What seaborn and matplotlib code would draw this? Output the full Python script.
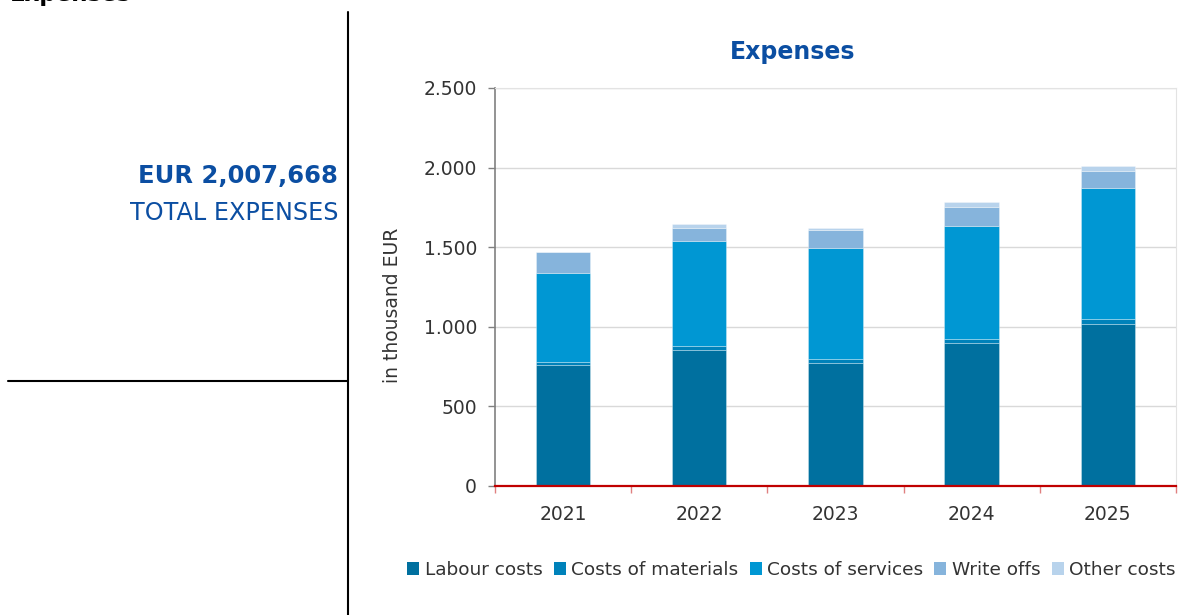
import matplotlib
matplotlib.use("Agg")
import matplotlib.pyplot as plt
from matplotlib.lines import Line2D
from matplotlib.patches import Patch
import numpy as np
import pandas as pd
import seaborn as sns

# Expense breakdown per year, in thousand EUR
years = ["2021", "2022", "2023", "2024", "2025"]
labour_costs = [758, 852, 771, 896, 1018]
costs_of_materials = [21, 27, 25, 27, 29]
costs_of_services = [561, 660, 701, 712, 827]
write_offs = [127, 84, 109, 120, 105]
other_costs = [5, 25, 15, 27, 28.7]

series_names = ["Labour costs", "Costs of materials", "Costs of services",
                "Write offs", "Other costs"]
series_values = [labour_costs, costs_of_materials, costs_of_services,
                 write_offs, other_costs]
series_colors = ["#00709F", "#0082BA", "#0097D3", "#86B4DC", "#B8D3EC"]

y_ticks = [0, 500, 1000, 1500, 2000, 2500]
y_tick_labels = ["0", "500", "1.000", "1.500", "2.000", "2.500"]

total_label = "EUR 2,007,668"
total_caption = "TOTAL EXPENSES"

sns.set_theme(style="white")
plt.rcParams["font.family"] = ["DejaVu Sans"]

blue = "#0B4EA2"
text_grey = "#333333"

fig = plt.figure(figsize=(11.79, 6.15), dpi=100)
ax = fig.add_axes([0.4198, 0.2098, 0.5776, 0.6472])

df = pd.DataFrame({"year": years})
bottom = np.zeros(len(years))
for name, vals, col in zip(series_names, series_values, series_colors):
    df[name] = vals
    sns.barplot(data=df, x="year", y=name, color=col, width=0.4,
                bottom=bottom, ax=ax, saturation=1,
                edgecolor=(1, 1, 1, 0.35), linewidth=0.6, zorder=3)
    bottom = bottom + np.asarray(vals, dtype=float)

ax.set_xlim(-0.5, len(years) - 0.5)
ax.set_ylim(0, 2500)
ax.set_yticks(y_ticks)
ax.set_yticklabels(y_tick_labels)
ax.set_xlabel("")
ax.set_ylabel("in thousand EUR", fontsize=13.5, color=text_grey)
ax.yaxis.set_label_coords(-0.1363, 0.455)

ax.grid(axis="y", color="#D9D9D9", linewidth=1.0, zorder=0)
ax.set_axisbelow(True)

for side in ("top", "right"):
    ax.spines[side].set_visible(True)
    ax.spines[side].set_color("#E3E3E3")
    ax.spines[side].set_linewidth(0.8)
ax.spines["left"].set_color("#808080")
ax.spines["left"].set_linewidth(1.2)
ax.spines["bottom"].set_color("#C00000")
ax.spines["bottom"].set_linewidth(1.6)
ax.spines["bottom"].set_zorder(5)

ax.tick_params(axis="y", which="major", left=True, length=5, width=1,
               color="#808080", labelsize=13.5, labelcolor=text_grey, pad=8)
ax.tick_params(axis="x", which="major", bottom=False, labelsize=13.5,
               labelcolor=text_grey, pad=8)
ax.set_xticks(np.arange(-0.5, len(years)), minor=True)
ax.tick_params(axis="x", which="minor", bottom=True, length=5, width=1,
               color="#E08080")

# Legend below the chart
handles = [Patch(facecolor=c, edgecolor="none") for c in series_colors]
fig.legend(handles, series_names, loc="center", ncol=5,
           bbox_to_anchor=(0.6713, 0.073), frameon=False,
           fontsize=13.3, handlelength=0.65, handleheight=0.65,
           handletextpad=0.3, columnspacing=0.6, labelcolor=text_grey)

# Chart title
fig.text(0.6726, 0.9154, "Expenses", ha="center", va="center",
         fontsize=17, fontweight="bold", color=blue)

# Section heading at the top edge
fig.text(0.0085, 1 - 1 / 615, "Expenses", ha="left", va="baseline",
         fontsize=16.5, fontweight="bold", color="black")

# Headline total on the left
fig.text(0.2867, 1 - 176 / 615, total_label, ha="right", va="center",
         fontsize=17.5, fontweight="bold", color=blue)
fig.text(0.2867, 1 - 213 / 615, total_caption, ha="right", va="center",
         fontsize=17.2, color=blue)

fig.add_artist(Line2D([348 / 1179, 348 / 1179], [0, 1 - 12 / 615],
                      transform=fig.transFigure, color="black", linewidth=1.5))
fig.add_artist(Line2D([8 / 1179, 348 / 1179], [1 - 381 / 615, 1 - 381 / 615],
                      transform=fig.transFigure, color="black", linewidth=1.5))

fig.savefig("out.png", dpi=100)
